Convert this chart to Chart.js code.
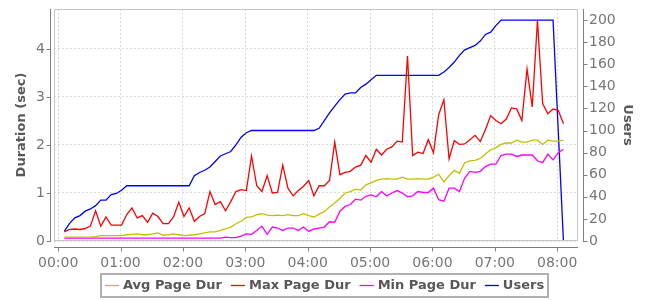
<!DOCTYPE html>
<html>
<head>
<meta charset="utf-8">
<title>Page duration and users</title>
<script src="https://cdn.jsdelivr.net/npm/chart.js@4.4.0/dist/chart.umd.min.js"></script>
<style>
  body { margin: 0; background: #fff; }
  canvas { display: block; }
</style>
</head>
<body>
<canvas id="chart" width="650" height="300"></canvas>
<script>
// sample times, minutes after 00:00
const minutes = [6, 11, 16, 21, 26, 31, 36, 41, 46, 51, 56, 61, 66, 71, 76, 81, 86, 91, 96, 101,
  106, 111, 116, 121, 126, 131, 136, 141, 146, 151, 156, 161, 166, 171, 176, 181, 186, 191, 196, 201,
  206, 211, 216, 221, 226, 231, 236, 241, 246, 251, 256, 261, 266, 271, 276, 281, 286, 291, 296, 301,
  306, 311, 316, 321, 326, 331, 336, 341, 346, 351, 356, 361, 366, 371, 376, 381, 386, 391, 396, 401,
  406, 411, 416, 421, 426, 431, 436, 441, 446, 451, 456, 461, 466, 471, 476, 481, 486, 491];

const avgDur = [0.08, 0.08, 0.08, 0.08, 0.08, 0.08, 0.09, 0.11, 0.11, 0.11, 0.11, 0.11, 0.13, 0.14, 0.15, 0.13, 0.13, 0.15, 0.17, 0.12,
  0.13, 0.15, 0.13, 0.11, 0.12, 0.13, 0.15, 0.17, 0.19, 0.19, 0.22, 0.25, 0.29, 0.36, 0.41, 0.49, 0.50, 0.55, 0.57, 0.54,
  0.53, 0.54, 0.53, 0.55, 0.53, 0.53, 0.57, 0.53, 0.50, 0.56, 0.61, 0.71, 0.79, 0.89, 1.00, 1.03, 1.08, 1.06, 1.17, 1.21,
  1.26, 1.29, 1.30, 1.29, 1.29, 1.33, 1.29, 1.29, 1.30, 1.29, 1.29, 1.33, 1.39, 1.23, 1.36, 1.47, 1.41, 1.63, 1.67, 1.68,
  1.72, 1.81, 1.90, 1.94, 2.01, 2.04, 2.04, 2.10, 2.06, 2.06, 2.10, 2.10, 2.01, 2.10, 2.08, 2.08, 2.10];

const maxDur = [0.19, 0.24, 0.25, 0.24, 0.26, 0.31, 0.63, 0.31, 0.50, 0.33, 0.33, 0.33, 0.55, 0.69, 0.48, 0.53, 0.39, 0.58, 0.51, 0.36,
  0.36, 0.50, 0.81, 0.51, 0.69, 0.41, 0.51, 0.57, 1.03, 0.76, 0.82, 0.63, 0.82, 1.03, 1.07, 1.05, 1.77, 1.15, 1.03, 1.36,
  1.00, 1.01, 1.58, 1.10, 0.94, 1.05, 1.14, 1.26, 0.94, 1.15, 1.15, 1.26, 2.06, 1.38, 1.43, 1.45, 1.54, 1.58, 1.78, 1.64,
  1.91, 1.79, 1.91, 1.96, 2.08, 2.06, 3.85, 1.78, 1.85, 1.82, 2.11, 1.84, 2.63, 2.94, 1.71, 2.09, 2.01, 2.02, 2.11, 2.20,
  2.07, 2.32, 2.61, 2.51, 2.44, 2.54, 2.77, 2.75, 2.51, 3.58, 2.79, 4.59, 2.86, 2.65, 2.75, 2.72, 2.44];

const minDur = [0.06, 0.06, 0.06, 0.06, 0.06, 0.06, 0.06, 0.06, 0.06, 0.06, 0.06, 0.06, 0.06, 0.06, 0.06, 0.06, 0.06, 0.06, 0.06, 0.06,
  0.06, 0.06, 0.06, 0.06, 0.06, 0.06, 0.06, 0.06, 0.06, 0.06, 0.06, 0.08, 0.07, 0.07, 0.10, 0.15, 0.14, 0.22, 0.31, 0.14,
  0.29, 0.27, 0.22, 0.27, 0.27, 0.22, 0.29, 0.20, 0.25, 0.27, 0.29, 0.40, 0.39, 0.62, 0.72, 0.76, 0.87, 0.85, 0.93, 0.96,
  0.92, 1.03, 0.94, 1.00, 1.05, 1.00, 0.92, 0.94, 1.03, 1.01, 1.01, 1.10, 0.86, 0.83, 1.10, 1.10, 1.03, 1.31, 1.45, 1.43,
  1.45, 1.55, 1.60, 1.60, 1.78, 1.81, 1.81, 1.76, 1.79, 1.79, 1.79, 1.67, 1.63, 1.81, 1.69, 1.84, 1.91];

const users = [9, 16, 21, 23, 27, 29, 32, 37, 37, 42, 43, 46, 50, 50, 50, 50, 50, 50, 50, 50,
  50, 50, 50, 50, 50, 59, 62, 64, 67, 72, 77, 79, 81, 87, 94, 98, 100, 100, 100, 100,
  100, 100, 100, 100, 100, 100, 100, 100, 100, 102, 109, 116, 122, 128, 133, 134, 134, 139, 142, 146,
  150, 150, 150, 150, 150, 150, 150, 150, 150, 150, 150, 150, 150, 153, 157, 162, 168, 173, 175, 177,
  181, 187, 189, 195, 200, 200, 200, 200, 200, 200, 200, 200, 200, 200, 200, 100, 0, 0];

const hourTicks = [0, 60, 120, 180, 240, 300, 360, 420, 480];
const hourLabels = ["00:00", "01:00", "02:00", "03:00", "04:00", "05:00", "06:00", "07:00", "08:00"];
const durTicks = [0, 1, 2, 3, 4];
const userTicks = [0, 20, 40, 60, 80, 100, 120, 140, 160, 180, 200];

const FONT = "'DejaVu Sans', sans-serif";
const TICK_COLOR = "#767676";
const TITLE_COLOR = "#585858";
const LINE_W = 1.3;

const pts = (vals) => vals.map((v, i) => ({x: minutes[i], y: v}));

function line(label, vals, color, axis) {
  return {
    label, data: pts(vals), yAxisID: axis,
    borderColor: color, backgroundColor: color,
    borderWidth: LINE_W, pointRadius: 0, tension: 0, fill: false,
  };
}

// plot outline and offset axis lines, like the original
const axesPlugin = {
  id: "axes",
  afterDraw(chart) {
    const {ctx, chartArea: a, scales} = chart;
    ctx.save();
    ctx.lineWidth = 1;
    ctx.strokeStyle = "#c6c6c6";
    ctx.strokeRect(a.left + 0.5, a.top + 0.5, a.width - 1, a.height - 1);
    ctx.strokeStyle = "#808080";
    ctx.beginPath();
    const lx = a.left - 3.5;
    ctx.moveTo(lx, a.top); ctx.lineTo(lx, a.bottom + 1);
    durTicks.forEach((v) => {
      const py = Math.round(scales.y.getPixelForValue(v)) + 0.5;
      ctx.moveTo(lx - 4, py); ctx.lineTo(lx, py);
    });
    const rx = a.right + 5.5;
    ctx.moveTo(rx, a.top); ctx.lineTo(rx, a.bottom + 1);
    userTicks.forEach((v) => {
      const py = Math.round(scales.y1.getPixelForValue(v)) + 0.5;
      ctx.moveTo(rx, py); ctx.lineTo(rx + 4, py);
    });
    const by = a.bottom + 6.5;
    ctx.moveTo(a.left, by); ctx.lineTo(a.right, by);
    hourTicks.forEach((v) => {
      const px = Math.round(scales.x.getPixelForValue(v)) + 0.5;
      ctx.moveTo(px, by); ctx.lineTo(px, by + 4);
    });
    ctx.stroke();
    ctx.restore();
  },
};

// framed legend row under the x axis
const legendBox = {
  id: "legendBox",
  afterDraw(chart) {
    const ctx = chart.ctx;
    const sets = chart.data.datasets;
    ctx.save();
    ctx.font = "bold 13px " + FONT;
    const lineLen = 14, gapText = 4, gapItem = 9, pad = 4;
    const widths = sets.map((d) => lineLen + gapText + ctx.measureText(d.label).width);
    const total = widths.reduce((s, w) => s + w, 0) + gapItem * (sets.length - 1) + pad * 2;
    const x0 = Math.round((chart.width - total) / 2);
    const top = 274, h = 23, cy = 285.5;
    ctx.strokeStyle = "#b0b0b0";
    ctx.lineWidth = 2;
    ctx.strokeRect(x0, top, Math.round(total), h);
    let x = x0 + pad;
    sets.forEach((d, i) => {
      ctx.strokeStyle = d.borderColor;
      ctx.lineWidth = LINE_W;
      ctx.beginPath();
      ctx.moveTo(x, cy); ctx.lineTo(x + lineLen, cy);
      ctx.stroke();
      ctx.fillStyle = TITLE_COLOR;
      ctx.textBaseline = "middle";
      ctx.textAlign = "left";
      ctx.fillText(d.label, x + lineLen + gapText, cy);
      x += widths[i] + gapItem;
    });
    ctx.restore();
  },
};

const tickFont = {family: FONT, size: 14};
const titleFont = {family: FONT, size: 13, weight: "bold"};
const clear = "rgba(0,0,0,0)";

new Chart(document.getElementById("chart"), {
  type: "line",
  data: {
    datasets: [
      line("Avg Page Dur", avgDur, "#c0c000", "y"),
      line("Max Page Dur", maxDur, "#ff0000", "y"),
      line("Min Page Dur", minDur, "#ff00ff", "y"),
      line("Users", users, "#0000ff", "y1"),
    ],
  },
  options: {
    responsive: false,
    animation: false,
    layout: {padding: {top: 9, left: 0, right: 0, bottom: 0}},
    plugins: {legend: {display: false}, tooltip: {enabled: false}},
    scales: {
      x: {
        type: "linear", min: -4, max: 500,
        afterBuildTicks: (s) => { s.ticks = hourTicks.map((v) => ({value: v})); },
        afterFit: (s) => { s.height = 59; },
        ticks: {
          font: tickFont, color: TICK_COLOR, padding: 0, maxRotation: 0, autoSkip: false,
          callback: (v) => hourLabels[hourTicks.indexOf(v)],
        },
        grid: {color: "#dadada", tickLength: 14, tickColor: clear},
        border: {display: false, dash: [2, 2]},
      },
      y: {
        position: "left", min: 0, max: 4.83,
        afterBuildTicks: (s) => { s.ticks = durTicks.map((v) => ({value: v})); },
        afterFit: (s) => { s.width = 54; },
        ticks: {font: tickFont, color: TICK_COLOR, padding: 0},
        grid: {color: "#dadada", tickLength: 9, tickColor: clear},
        border: {display: false, dash: [2, 2]},
        title: {display: true, text: "Duration (sec)", font: titleFont, color: TITLE_COLOR, padding: {top: 14, bottom: 0}},
      },
      y1: {
        position: "right", min: 0, max: 210,
        afterBuildTicks: (s) => { s.ticks = userTicks.map((v) => ({value: v})); },
        afterFit: (s) => { s.width = 72; },
        ticks: {font: tickFont, color: TICK_COLOR, padding: 0},
        grid: {drawOnChartArea: false, tickLength: 11, tickColor: clear},
        border: {display: false},
        title: {display: true, text: "Users", font: titleFont, color: TITLE_COLOR, padding: {top: 15, bottom: 0}},
      },
    },
  },
  plugins: [axesPlugin, legendBox],
});
</script>
</body>
</html>
